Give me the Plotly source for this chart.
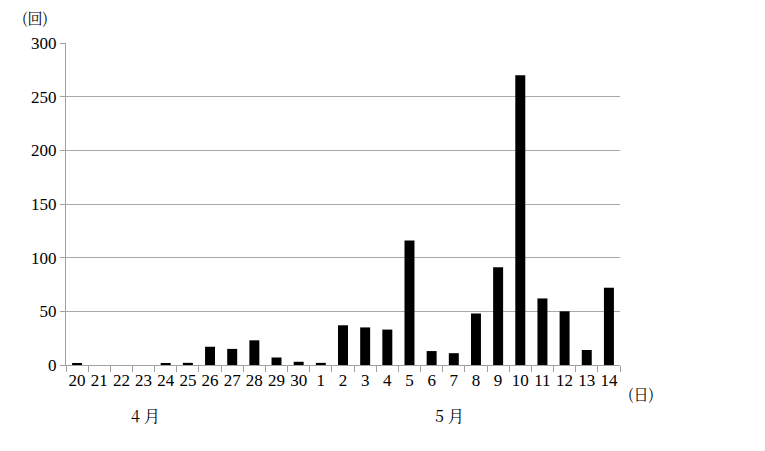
import plotly.graph_objects as go

days = ["20", "21", "22", "23", "24", "25", "26", "27", "28", "29", "30",
        "1", "2", "3", "4", "5", "6", "7", "8", "9", "10", "11", "12", "13", "14"]
counts = [1, 0, 0, 0, 1, 2, 17, 15, 23, 7, 3,
          2, 37, 35, 33, 116, 13, 11, 48, 91, 270, 62, 50, 14, 72]
y_ticks = [0, 50, 100, 150, 200, 250, 300]
month_labels = ["4 月", "5 月"]
month_pos = [3.1, 16.8]

OFF = 8  # page body margin offset
W, H = 765 - OFF, 451 - OFF
L, R, T, B = 66 - OFF, 620 - OFF, 43 - OFF, 365 - OFF
plot_w, plot_h = R - L, B - T

fig = go.Figure(go.Bar(x=days, y=counts, marker=dict(color="black", line=dict(width=0)),
                       width=0.45))

serif = "Liberation Serif, DejaVu Serif, serif"
cjk = "Noto Serif CJK JP, Noto Sans CJK JP, serif"
fig.update_layout(
    width=W, height=H,
    margin=dict(l=L, r=W - R, t=T, b=H - B, autoexpand=False),
    paper_bgcolor="white", plot_bgcolor="white",
    showlegend=False,
    font=dict(family=serif, color="black", size=15),
)
fig.update_xaxes(
    type="category", tickson="boundaries", ticks="outside", ticklen=6,
    tickcolor="#a0a0a0", showline=True, linecolor="#a0a0a0", linewidth=1,
    showgrid=False, tickfont=dict(family=serif, size=17, color="black"),
    tickangle=0, range=[-0.5, 24.5], automargin=False,
)
fig.update_yaxes(
    range=[0, 300], tickvals=y_ticks, ticks="outside", ticklen=5, tickcolor="#a0a0a0",
    showline=True, linecolor="#a0a0a0", linewidth=1,
    showgrid=True, gridcolor="#a8a8a8", gridwidth=1, zeroline=False,
    tickfont=dict(family=serif, size=17, color="black"),
    automargin=False,
)
for lab, pos in zip(month_labels, month_pos):
    fig.add_annotation(x=pos, xref="x", y=-(415 - 365) / plot_h, yref="paper",
                       yanchor="middle", text=lab, showarrow=False,
                       font=dict(family=cjk, size=16, color="black"))
fig.add_annotation(x=(656 - 66) / plot_w, xref="paper", y=-(394 - 365) / plot_h, yref="paper",
                   yanchor="middle", text="(日)", showarrow=False,
                   font=dict(family=cjk, size=15, color="black"))
fig.add_annotation(x=(50 - 66) / plot_w, xref="paper", xanchor="right",
                   y=1 + (43 - 18) / plot_h, yref="paper",
                   yanchor="middle", text="(回)", showarrow=False,
                   font=dict(family=cjk, size=15, color="black"))

fig.write_html("out.html")
